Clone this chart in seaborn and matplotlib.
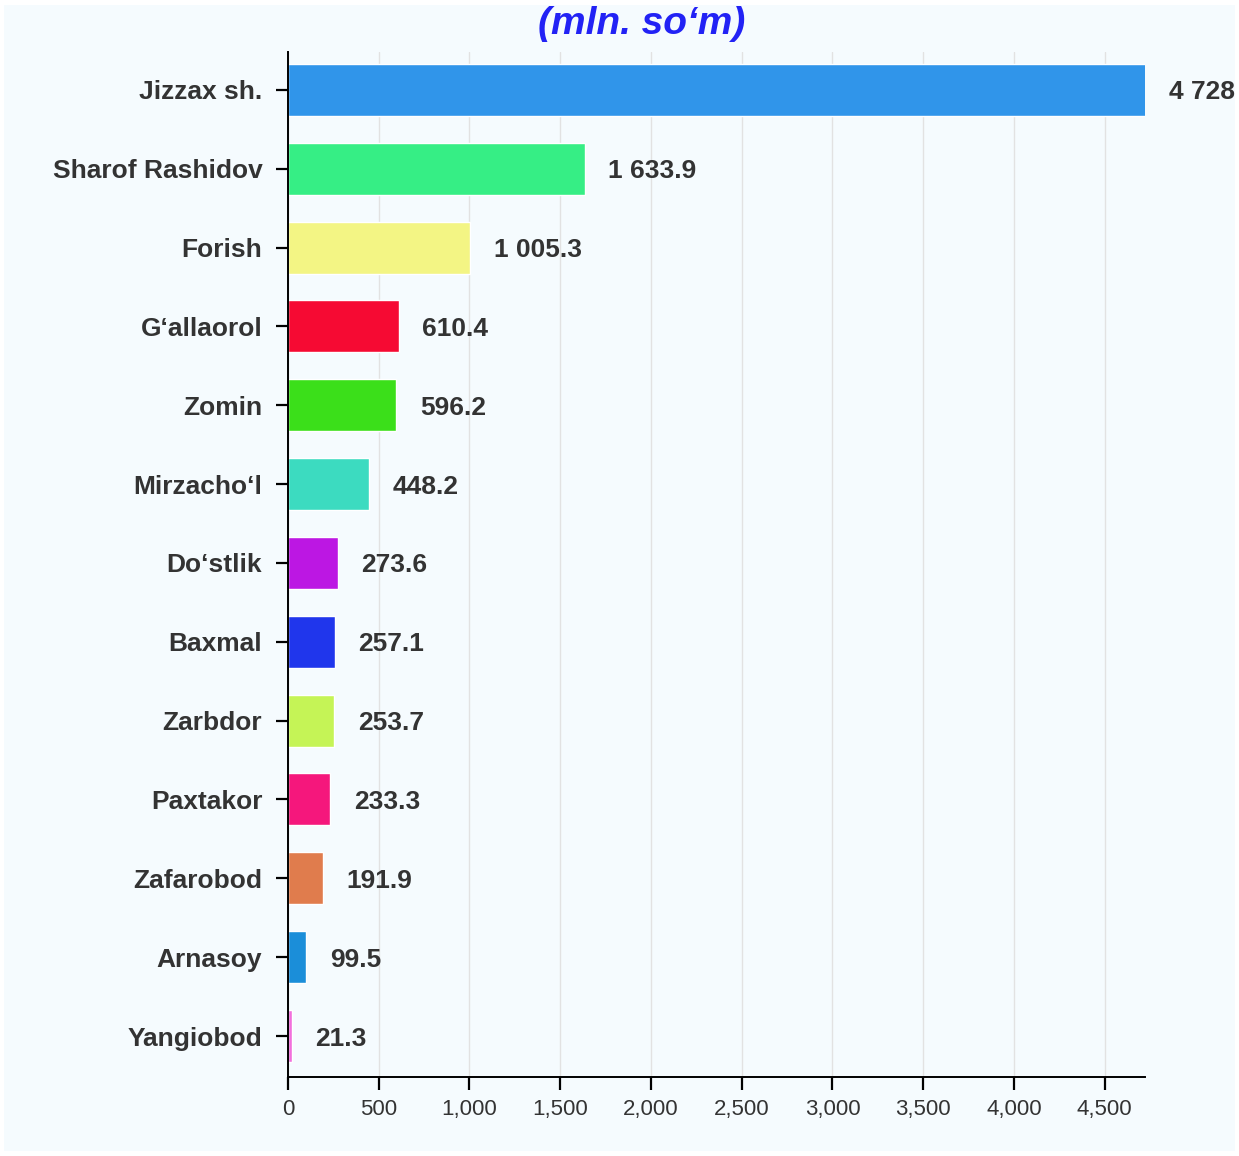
import matplotlib
matplotlib.use("Agg")
import matplotlib.pyplot as plt
import matplotlib.ticker as mticker
from matplotlib.patches import Rectangle
import seaborn as sns
import pandas as pd

districts = ["Jizzax sh.", "Sharof Rashidov", "Forish", "G‘allaorol", "Zomin",
             "Mirzacho‘l", "Do‘stlik", "Baxmal", "Zarbdor", "Paxtakor",
             "Zafarobod", "Arnasoy", "Yangiobod"]
values = [4728, 1633.9, 1005.3, 610.4, 596.2, 448.2, 273.6, 257.1, 253.7,
          233.3, 191.9, 99.5, 21.3]
value_labels = ["4 728", "1 633.9", "1 005.3", "610.4", "596.2", "448.2",
                "273.6", "257.1", "253.7", "233.3", "191.9", "99.5", "21.3"]
colors = ["#3095EA", "#36EE85", "#F3F584", "#F60A33", "#3BDF1A", "#3CDBC0",
          "#BC17E3", "#2036EC", "#C5F456", "#F5177C", "#E07C4D", "#1B8ED9",
          "#F26FDD"]

df = pd.DataFrame({"district": districts, "value": values})

sns.set_style("white")
plt.rcParams["font.family"] = ["Liberation Sans", "DejaVu Sans"]

bg = "#F5FBFE"
fig = plt.figure(figsize=(12.39, 11.56), dpi=100, facecolor="white")
fig.patches.append(Rectangle((0.003, 0.004), 0.994, 0.992, transform=fig.transFigure,
                             facecolor=bg, edgecolor="none", zorder=-10))
ax = fig.add_axes([288 / 1239, 1 - 1077 / 1156, (1145 - 288) / 1239, (1077 - 52) / 1156])
ax.set_facecolor(bg)

sns.barplot(data=df, x="value", y="district", hue="district", palette=colors,
            orient="h", width=0.66, legend=False, ax=ax, saturation=1)

ax.set_xlim(0, 4722)
ax.set_ylim(12.52, -0.48)
ax.xaxis.set_major_locator(mticker.MultipleLocator(500))
ax.xaxis.set_major_formatter(mticker.FuncFormatter(lambda x, p: f"{x:,.0f}"))
ax.grid(axis="x", color="#E2E2E2", linewidth=1)
ax.set_axisbelow(True)

for s in ["top", "right"]:
    ax.spines[s].set_visible(False)
for s in ["left", "bottom"]:
    ax.spines[s].set_color("black")
    ax.spines[s].set_linewidth(1.4)

# white style hides tick marks, turn them back on
ax.tick_params(axis="x", bottom=True, length=9, width=1.6, color="black",
               labelsize=16, labelcolor="#333333", pad=7)
ax.tick_params(axis="y", left=True, length=8.5, width=1.6, color="black",
               labelsize=19, labelcolor="#333333", pad=10)
for lbl in ax.get_yticklabels():
    lbl.set_fontweight("bold")
ax.set_xlabel("")
ax.set_ylabel("")

for i, (v, t) in enumerate(zip(values, value_labels)):
    ax.annotate(t, xy=(min(v, 4722), i), xytext=(17, 0), textcoords="offset points",
                ha="left", va="center_baseline", fontsize=19, fontweight="bold",
                color="#333333", annotation_clip=False)

fig.text(642 / 1239, 1 - 24 / 1156, "(mln. so‘m)", ha="center", va="center",
         fontsize=28, fontweight="bold", fontstyle="italic", color="#2222F5")

fig.savefig("out.png", dpi=100, facecolor="white")
